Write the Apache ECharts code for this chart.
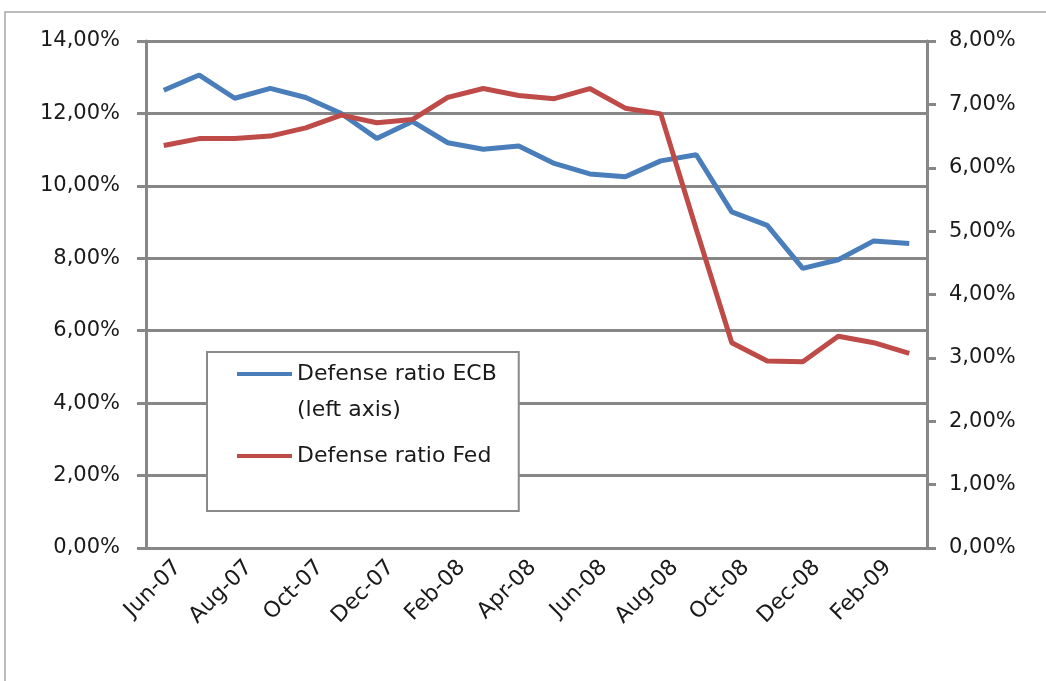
<!DOCTYPE html>
<html><head><meta charset="utf-8">
<script src="https://cdn.jsdelivr.net/npm/echarts@6/dist/echarts.min.js"></script>
<style>html,body{margin:0;padding:0;background:#fff}#c{width:1046px;height:681px}</style>
</head><body><div id="c"></div>
<script>
const months = ['Jun-07','Jul-07','Aug-07','Sep-07','Oct-07','Nov-07','Dec-07','Jan-08','Feb-08','Mar-08','Apr-08','May-08','Jun-08','Jul-08','Aug-08','Sep-08','Oct-08','Nov-08','Dec-08','Jan-09','Feb-09','Mar-09'];
const ecbRatio = [12.64,13.06,12.42,12.69,12.44,12.00,11.31,11.78,11.19,11.01,11.10,10.62,10.33,10.25,10.69,10.86,9.28,8.91,7.72,7.96,8.48,8.41];
const fedRatio = [6.35,6.46,6.46,6.50,6.63,6.83,6.71,6.76,7.11,7.25,7.14,7.09,7.25,6.94,6.85,5.03,3.24,2.95,2.94,3.34,3.24,3.07];
const leftAxisRange = [0, 14, 2];
const rightAxisRange = [0, 8, 1];
const seriesNames = ['Defense ratio ECB', 'Defense ratio Fed'];
const ecbLegendLabel = 'Defense ratio ECB\n(left axis)';

const FONT = 'DejaVu Sans';
const AXIS_GRAY = '#878787';
const fmt = v => v.toFixed(2).replace('.', ',') + '%';

const chart = echarts.init(document.getElementById('c'), null, {renderer: 'canvas'});
chart.setOption({
  animation: false,
  backgroundColor: '#fff',
  graphic: [{
    type: 'rect', silent: true, z: -10,
    shape: {x: 5, y: 12, width: 1100, height: 720},
    style: {fill: 'none', stroke: '#a8a8a8', lineWidth: 1.5}
  }],
  grid: {left: 146, right: 119, top: 41, bottom: 133},
  legend: {
    orient: 'vertical',
    left: 207, top: 352,
    padding: [4, 22, 35, 30],
    itemGap: 8,
    itemWidth: 55, itemHeight: 40,
    borderColor: '#8a8a8a', borderWidth: 2,
    backgroundColor: '#fff',
    textStyle: {fontFamily: FONT, fontSize: 22, color: '#1a1a1a', lineHeight: 36},
    formatter: name => name === seriesNames[0] ? ecbLegendLabel : name,
    data: [
      {name: seriesNames[0], icon: 'path://M0,0H55V4H0Z M0,40H0.01V40.01H0Z'},
      {name: seriesNames[1], icon: 'path://M0,18H55V22H0Z M0,0H0.01V0.01H0Z M0,40H0.01V40.01H0Z'}
    ]
  },
  xAxis: {
    type: 'category',
    data: months,
    boundaryGap: true,
    axisLine: {lineStyle: {color: AXIS_GRAY, width: 3}},
    axisTick: {interval: 1, length: 9, lineStyle: {color: AXIS_GRAY, width: 3}},
    axisLabel: {interval: 1, rotate: 45, margin: 2, verticalAlign: 'top', lineHeight: 40,
      fontFamily: FONT, fontSize: 22, color: '#1a1a1a'},
    splitLine: {show: false}
  },
  yAxis: [{
    type: 'value', position: 'left',
    min: leftAxisRange[0], max: leftAxisRange[1], interval: leftAxisRange[2],
    axisLine: {show: true, lineStyle: {color: AXIS_GRAY, width: 3}},
    axisTick: {show: true, length: 9, lineStyle: {color: AXIS_GRAY, width: 3}},
    axisLabel: {margin: 26, fontFamily: FONT, fontSize: 21, color: '#1a1a1a', formatter: fmt},
    splitLine: {show: true, lineStyle: {color: AXIS_GRAY, width: 3}}
  }, {
    type: 'value', position: 'right',
    min: rightAxisRange[0], max: rightAxisRange[1], interval: rightAxisRange[2],
    axisLine: {show: true, lineStyle: {color: AXIS_GRAY, width: 3}},
    axisTick: {show: true, length: 9, lineStyle: {color: AXIS_GRAY, width: 3}},
    axisLabel: {margin: 22, fontFamily: FONT, fontSize: 21, color: '#1a1a1a', formatter: fmt},
    splitLine: {show: false}
  }],
  series: [{
    name: seriesNames[0], type: 'line', yAxisIndex: 0, data: ecbRatio,
    showSymbol: false, symbol: 'none',
    lineStyle: {color: '#4a7ebb', width: 5},
    itemStyle: {color: '#4a7ebb'}
  }, {
    name: seriesNames[1], type: 'line', yAxisIndex: 1, data: fedRatio,
    showSymbol: false, symbol: 'none',
    lineStyle: {color: '#be4b48', width: 5},
    itemStyle: {color: '#be4b48'}
  }]
});
</script></body></html>
